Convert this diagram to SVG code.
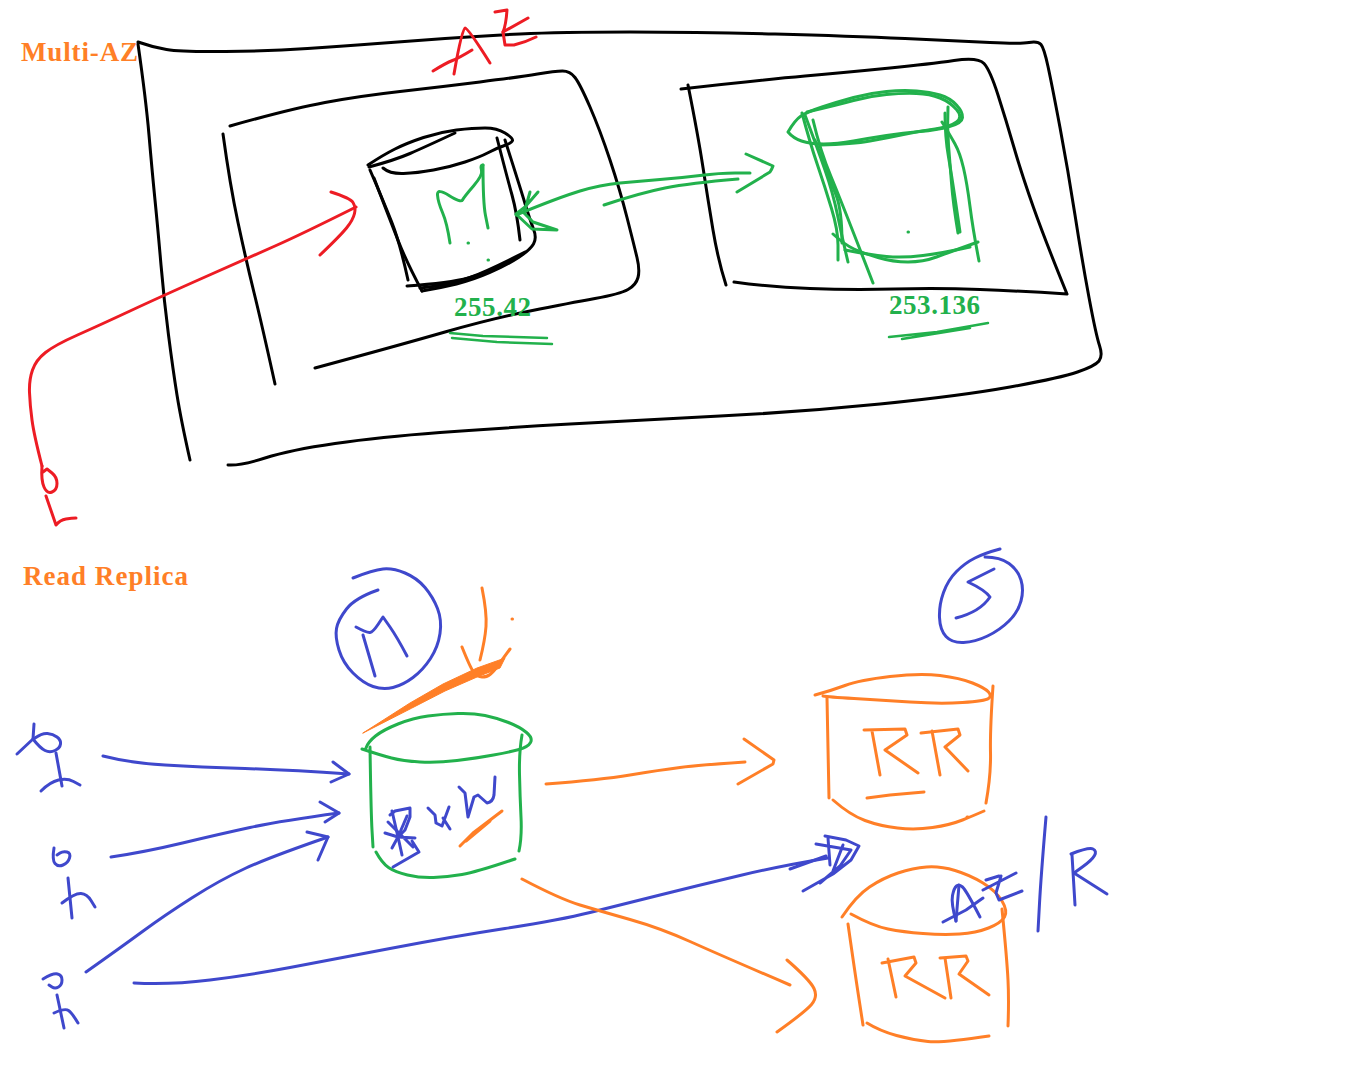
<svg xmlns="http://www.w3.org/2000/svg" width="1360" height="1084" viewBox="0 0 1360 1084">
<style>
path{fill:none;stroke-linecap:round;stroke-linejoin:round;stroke-width:3}
.k path,path.k{stroke:#000}
.g path,path.g{stroke:#22b14c}
.r path,path.r{stroke:#ed1c24}
.b path,path.b{stroke:#3f48cc}
.o path,path.o{stroke:#ff7f27}
path.fo{fill:#ff7f27;stroke-width:1}
path.u{stroke-width:2.5}
text{font-family:"Liberation Serif",serif;font-weight:bold}
.t{fill:#ff7f27;font-size:27px}
.n{fill:#22b14c;font-size:27px}
</style>
<rect width="1360" height="1084" fill="#fff"/>
<g id="multi-az-title"><text class="t" x="21" y="61" textLength="117">Multi-AZ</text></g>
<g id="read-replica-title"><text class="t" x="23" y="585" textLength="165">Read Replica</text></g>
<g id="region-box" class="k">
<path d="M138 42Q152 47 166.5 49.5T225.5 51.5T307.5 48.5T377.5 43.5T445 38.5T520 34T630 32T775 34T905 38.5T990 42.5T1029 42.5T1041 44.5T1048 66.5T1060 127.5T1075 215T1089 297.5T1099.5 345.5T1099 361T1077.5 372T1010 387T880 404T720 416T570 424T440 432.5T335 443.5T265 458T228 465"/>
<path d="M138 44Q146 100 149 135T155 200T161 265T168.5 335T177 395T190 460"/>
</g>
<g id="az-1-box" class="k">
<path d="M230 126Q290 109 325 102.5T400 91.5T480 82T537.5 74T562.5 71T575 77.5T590 107T610 160T627 217.5T637 257.5T638 277.5T628 289.5T595 298.5T530 311T445 332T315 368"/>
<path d="M223 134Q230 185 238 222.5T254 292.5T275 384"/>
</g>
<g id="az-2-box" class="k">
<path d="M681 89Q760 80 805 76T890 68T954 60.5T984 63.5T998 95T1014 147.5T1033.5 207.5T1067 294Q1020 291 980 289.5T895 289T810 288.5T734 282"/>
<path d="M688 85Q698 135 703 167.5T713 230T726 285"/>
</g>
<g id="az-label" class="r">
<path d="M433 71Q446 63 452.5 60.5T472 50"/>
<path d="M454 74Q462 28 465 28T490 63"/>
<path d="M495 12L507 10Q506 25 503 32L528 18"/>
<path d="M503 32L505 45L514 45Q526 42 536 37"/>
</g>
<g id="master-db" class="k">
<path d="M368 165Q383 155 395 149T423.5 137.5T456.5 130T485 128T505 133T512.5 140.5T504.5 145.5T488.5 152.5T465 162T433.5 170T403.5 173.5T383 168"/>
<path d="M369 167Q395 160 410 153.5T455 133"/>
<path d="M370 170Q383 200 391.5 221.5T408 280"/>
<path d="M374 178Q390 220 398.5 241.5T422 291"/>
<path d="M497 138Q507 177 512 195T520 240"/>
<path d="M505 140Q520 187 525 203.5T533.5 229T533.5 244T518.5 257.5T490 272.5T456.5 284T422 291"/>
<path d="M407 286Q450 283 468.5 278T517 257"/>
<path d="M420 288Q450 285 470 277.5T525 252"/>
<path class="g" d="M450 243Q447 223 442.5 212.5T437.5 195T449 195.5T462.5 200T473.5 186T481.5 170T483 165"/>
<path class="g" d="M483 165Q483 203 485.5 215.5T488 228"/>
<path class="g" stroke-width="2" d="M468 243h.5M488 260h.5"/>
</g>
<g id="standby-db" class="g">
<path d="M788 132Q795 120 801 116T822 107T853.5 97.5T886.5 91.5T916.5 91T940 95T956.5 105T962.5 117.5T949.5 126.5T920 131.5T886.5 135.5T853.5 141T823.5 144T801.5 141T788 132"/>
<path d="M807 112Q837 105 853.5 100.5T886.5 94.5T916.5 93.5T940 98T956.5 109.5T956.5 122T935 129T903.5 134.5T870 141T820 145"/>
<path d="M802 113Q810 143 817.5 165T831.5 208.5T838 245T838 260"/>
<path d="M805 115Q817 147 825 170T837.5 215T848 262"/>
<path d="M813 120Q820 150 831 176.5T873 283"/>
<path d="M815 140Q830 180 836 195T842 243"/>
<path d="M948 107Q947 127 948.5 145T951.5 183T958 233"/>
<path d="M945 113Q945 137 948.5 157T960 232"/>
<path d="M942 122Q950 135 955 144T963.5 168T970 206.5T979 261"/>
<path d="M833 234Q845 245 854 249T878 257.5T908 262T936.5 257T978 242"/>
<path d="M845 250Q870 255 886.5 256.5T923 255.5T970 247"/>
<path stroke-width="1.5" d="M908 232h.5"/>
</g>
<g id="m-circle" class="b">
<path d="M378 590Q355 598 346.5 609T336.5 628.5T339 650T353 673T373 686.5T393 687.5T413 677.5T430.5 658.5T440 633.5T437.5 608.5T425 587.5T405 573T383 569T353 578"/>
<path d="M356 627Q367 633 370 632.5T378 624.5L383 617T390 627T407 656"/>
<path d="M363 635L375 676"/>
</g>
<g id="rw-db" class="g">
<path d="M366 748Q368 742 375.5 736T398 724T428 716T458 713.5T485 715.5T508.5 722.5T526.5 732.5T530.5 742.5T519 749.5T493.5 755T457 760.5T420 762T391.5 758T362 749"/>
<path d="M370 747Q371 813 372 830T373 847"/>
<path d="M522 735Q519 752 519.5 774.5T521 817T519 851"/>
<path d="M376 852Q382 863 388.5 867.5T407.5 875T433.5 877.5T462 874.5T515 859"/>
<path class="b" d="M390 815L395 811L410 808L410 817L405 830L398 837L392 848"/>
<path class="b" d="M392 811L398 837L402 855"/>
<path class="b" stroke-width="4" d="M407 816L398 837"/>
<path class="b" d="M385 833L398 837L415 838M388 822L413 847M412 841L419 852L393 867"/>
<path class="b" d="M428 808L435 815L436 823L442 826L449 807M443 818L450 829"/>
<path class="b" d="M459 787L465 793L468 817L474 797L478 795L487 803Q493 802 494 795L495 777"/>
<path class="o" d="M460 846L473 833L502 811"/>
<path class="o" stroke-width="4" d="M466 841L490 821"/>
</g>
<g id="annotation-pointer" class="o">
<path d="M482 588Q487 613 486 626.5T480 660"/>
<path d="M462 647Q470 667 473.5 672T482 677T490 674.5T495 669.5T510 649"/>
<path class="fo" d="M363 733L410 703L443 684L477 668L505 658L500 668L477 677L445 691L412 708Z"/>
<path stroke-width="1.5" d="M512 619h.5"/>
</g>
<g id="s-circle" class="b">
<path d="M1000 549Q985 553 975 558T956.5 571.5T943.5 592.5T939.5 617.5T946 636.5T963.5 642.5T987.5 636T1009 621T1021 601T1021 580T1009 563.5T985 557"/>
<path d="M994 569L968 582Q985 590 990 597Q980 612 956 618"/>
</g>
<g id="rr-1-db" class="o">
<path d="M815 695Q830 691 845 685.5T890 676.5T940 675.5T972.5 683T988.5 692T988.5 698.5T962.5 702.5T910 702T854 698.5T823 696"/>
<path d="M827 698L829 798"/>
<path d="M993 686Q990 730 990.5 752.5T986 803"/>
<path d="M833 800Q850 815 865 820.5T897.5 828T932.5 827.5T962.5 820T984 811"/>
<path d="M864 730L905 729L907 735L885 750L918 773M872 731L880 775"/>
<path d="M921 733L958 729L960 735L945 747L968 771M932 731L940 775"/>
<path stroke-width="4" d="M867 798L890 795L924 792"/>
<path class="b" stroke-width="1" d="M967 817h1"/>
</g>
<g id="rr-2-db" class="o">
<path d="M842 917Q856 896 869.5 887T898 873T926.5 867T955 870.5T983 883T1002 901T1004.5 917T988.5 928T959.5 934T923 933.5T888 929T851 914"/>
<path d="M848 924Q855 973 859 999T863 1025"/>
<path d="M1002 909Q1007 960 1008 980T1008 1026"/>
<path d="M867 1023Q880 1031 896.5 1035.5T928 1041.5T989 1036"/>
<path d="M882 963L914 957L916 963L905 976L945 998M888 959L896 997"/>
<path d="M940 958L966 956L968 961L959 974L989 995M945 958L951 998"/>
</g>
<g id="az-r-label" class="b">
<path d="M943 922L966 910L983 898"/>
<path d="M956 921Q951 903 952.5 895.5T956.5 886T962.5 887T980 917"/>
<path d="M956 921L959 885"/>
<path d="M986 880L999 876M983 890L1016 873M1001 876L996 893L999 900L1022 891"/>
<path d="M1046 817Q1041 876 1039.5 903.5T1038 931"/>
<path d="M1071 854Q1089 847 1093 849T1094.5 855.5T1083 866.5T1074 873L1107 894"/>
<path d="M1072 855L1075 905"/>
</g>
<g id="user-1" class="b">
<path d="M17 754L33 739L34 724"/>
<path d="M33 739Q40 748 45 750.5T55 750.5T60.5 744T57 737T47.5 733.5T35 738"/>
<path d="M56 753L62 786"/>
<path d="M41 791Q50 782 58.500 780T73.500 781.500T80 785"/>
</g>
<g id="user-2" class="b">
<path d="M54 848Q52 860 55 863.500T63 865T69.500 858T67 852T60 853T57 855"/>
<path d="M68 878L72 918"/>
<path d="M62 903Q75 893 81 893.500T91 900.500T95 907"/>
</g>
<g id="user-3" class="b">
<path d="M43 979Q53 973 57.500 974T62 980T58.500 987T52 987T49 985"/>
<path d="M57 995L64 1028"/>
<path d="M54 1013Q65 1008 68.500 1010.500T78 1023"/>
</g>
<g id="user-az" class="r">
<path d="M42 466Q41 480 44 487T52 492T57 483.500T52 473T47 469L43 472"/>
<path d="M46 496L56 525Q60 520 66 519T76 518"/>
</g>
<g id="connectors">
<path class="r" d="M42 466Q34 435 32 420T29.500 392.500T32.500 370T45.500 352.500T77.500 335T130 311T205 277T275 246T356 207"/>
<path class="r" d="M331 192Q350 198 353 202.500T354.500 213.500T346.500 228T320 255"/>
<path class="g" d="M516 215Q560 197 580 191T620 183T660 179.500T700 175.500T735 173T750 173"/>
<path class="g" d="M604 205Q640 193 665 188T738 179"/>
<path class="g" d="M746 154L773 166Q772 169 770 172L737 192"/>
<path class="g" d="M538 192L525 207L516 214L532 229L557 230L533 222L524 213L530 192"/>
<path class="g u" d="M450 333L483 336L547 338M452 338L497 342L552 344"/>
<path class="g u" d="M889 337L937 332L988 323M902 339L970 328"/>
<path class="b" d="M103 756Q130 763 165 765T245 768.500T349 774"/>
<path class="b" d="M333 762L349 774L331 782"/>
<path class="b" d="M111 857Q145 852 182.500 843T250 827.500T339 813"/>
<path class="b" d="M320 802L339 813L325 822"/>
<path class="b" d="M86 972Q120 948 142.500 931.500T192.500 897.500T245 868.500T328 837"/>
<path class="b" d="M307 832L328 837L318 860"/>
<path class="b" d="M134 983Q170 985 210 980T290 967.500T390 948.500T505 928.500T590 912.500T660 895T740 875.500T828 858"/>
<path class="b" d="M790 869L826 856M825 836L846 840L859 846L851 860L833 874L803 891M828 838L830 865M816 844L851 850L840 866L820 883M843 845L833 871"/>
<path class="o" d="M546 784Q600 780 630 775T680 767.500T745 762"/>
<path class="o" d="M744 739L774 760L773 764L738 784"/>
<path class="o" d="M522 879Q560 899 580 905T630 919.500T690 941.500T790 985"/>
<path class="o" d="M787 960Q810 980 814 988.500T811.500 1004.500T777 1032"/>
</g>
<g id="ip-labels">
<text class="n" x="454" y="316" textLength="77">255.42</text>
<text class="n" x="889" y="314" textLength="91">253.136</text>
</g>
</svg>
